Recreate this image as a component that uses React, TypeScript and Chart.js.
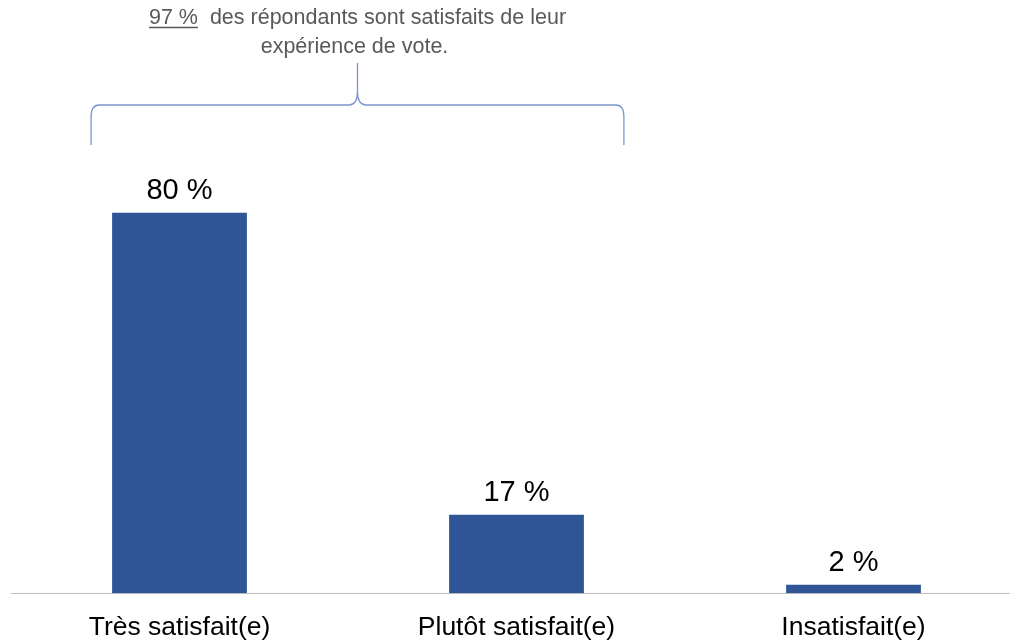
import React, { useEffect, useRef } from "react";
import { Chart, registerables } from "chart.js";

Chart.register(...registerables);

const categories = ["Très satisfait(e)", "Plutôt satisfait(e)", "Insatisfait(e)"];
const values = [80, 16.5, 1.8];
const valueLabels = ["80 %", "17 %", "2 %"];
const noteHighlight = "97 %";
const noteLine1 = "des répondants sont satisfaits de leur";
const noteLine2 = "expérience de vote.";

const FONT = "'Liberation Sans', Arial, sans-serif";

const valueLabelPlugin = {
  id: "valueLabels",
  afterDatasetsDraw(chart: any) {
    const ctx = chart.ctx;
    const meta = chart.getDatasetMeta(0);
    ctx.save();
    ctx.font = `29px ${FONT}`;
    ctx.fillStyle = "#000000";
    ctx.textAlign = "center";
    ctx.textBaseline = "alphabetic";
    meta.data.forEach((el: any, i: number) => {
      ctx.fillText(valueLabels[i], el.x, el.y - 14);
    });
    ctx.restore();
  },
};

const bracePlugin = {
  id: "brace",
  afterDraw(chart: any) {
    const ctx = chart.ctx;
    const meta = chart.getDatasetMeta(0);
    const b0 = meta.data[0];
    const b1 = meta.data[1];
    if (!b0 || !b1) return;
    const L = b0.x - b0.width / 2 - 21;
    const R = b1.x + b1.width / 2 + 40;
    const C = (L + R) / 2;
    const yBottom = 145;
    const yH = 105;
    const yPeak = 63;
    ctx.save();
    ctx.strokeStyle = "#7a96cc";
    ctx.lineWidth = 1.3;
    ctx.beginPath();
    ctx.moveTo(L, yBottom);
    ctx.lineTo(L, yH + 12);
    ctx.quadraticCurveTo(L, yH, L + 8, yH);
    ctx.lineTo(C - 8, yH);
    ctx.quadraticCurveTo(C, yH - 1, C, yH - 13);
    ctx.lineTo(C, yPeak);
    ctx.moveTo(C, yH - 13);
    ctx.quadraticCurveTo(C, yH - 1, C + 8, yH);
    ctx.lineTo(R - 8, yH);
    ctx.quadraticCurveTo(R, yH, R, yH + 12);
    ctx.lineTo(R, yBottom);
    ctx.stroke();

    // text
    ctx.font = `21.5px ${FONT}`;
    ctx.fillStyle = "#595959";
    ctx.textBaseline = "alphabetic";
    ctx.textAlign = "left";
    const hl = noteHighlight + "  ";
    const full = hl + noteLine1;
    const wFull = ctx.measureText(full).width;
    const wHl = ctx.measureText(noteHighlight).width;
    const wHlSp = ctx.measureText(hl).width;
    const x0 = C - wFull / 2;
    ctx.fillText(noteHighlight, x0, 24);
    ctx.fillText(noteLine1, x0 + wHlSp, 24);
    ctx.strokeStyle = "#595959";
    ctx.lineWidth = 1.3;
    ctx.beginPath();
    ctx.moveTo(x0, 27.5);
    ctx.lineTo(x0 + wHl, 27.5);
    ctx.stroke();
    ctx.textAlign = "center";
    ctx.fillText(noteLine2, C - 3, 53);
    ctx.restore();
  },
};

export default function App() {
  const ref = useRef<HTMLCanvasElement | null>(null);
  useEffect(() => {
    if (!ref.current) return;
    const chart = new Chart(ref.current, {
      type: "bar",
      data: {
        labels: categories,
        datasets: [
          {
            data: values,
            backgroundColor: "#2f5597",
            borderWidth: 0,
            categoryPercentage: 1,
            barPercentage: 0.4,
          },
        ],
      },
      options: {
        responsive: false,
        animation: false,
        layout: { padding: { left: 11, right: 8, top: 117.7, bottom: 0 } },
        plugins: {
          legend: { display: false },
          tooltip: { enabled: false },
          title: { display: false },
        },
        scales: {
          x: {
            grid: { display: false, drawTicks: false },
            border: { display: true, color: "#bfbfbf", width: 1 },
            ticks: {
              color: "#000000",
              font: { size: 26.5, family: FONT, lineHeight: 1.2 },
              padding: 19,
              maxRotation: 0,
              autoSkip: false,
            },
          },
          y: {
            display: false,
            min: 0,
            max: 100,
          },
        },
      },
      plugins: [valueLabelPlugin, bracePlugin],
    });
    return () => chart.destroy();
  }, []);
  return (
    <div
      style={{
        position: "fixed",
        left: 0,
        top: 0,
        width: 1010,
        height: 643,
        overflow: "hidden",
        background: "#ffffff",
      }}
    >
      <canvas ref={ref} width={1030} height={663} style={{ display: "block", width: 1030, height: 663 }} />
    </div>
  );
}
